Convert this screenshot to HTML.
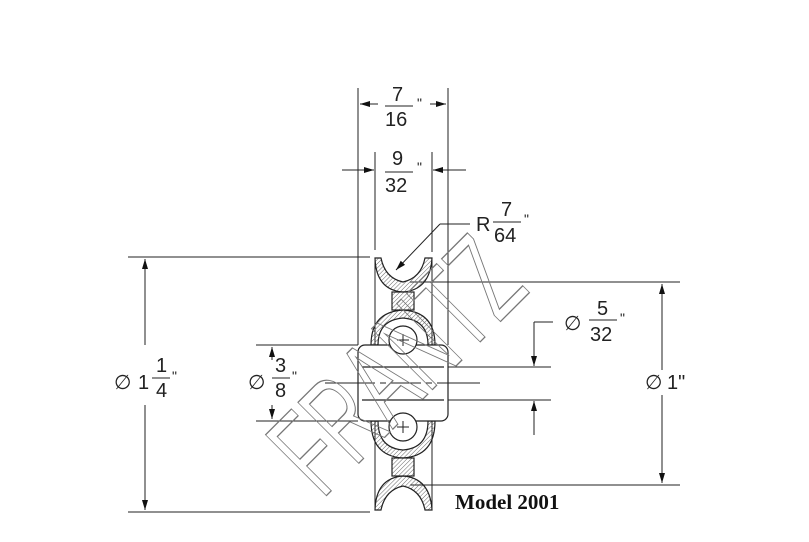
<!DOCTYPE html>
<html><head><meta charset="utf-8"><style>
html,body{margin:0;padding:0;background:#fff;}
svg{display:block}
text{font-family:"Liberation Sans",sans-serif;fill:#222}
</style></head><body>
<svg width="809" height="542" viewBox="0 0 809 542" xmlns="http://www.w3.org/2000/svg">
<defs>
<marker id="a" markerWidth="10" markerHeight="6" refX="10" refY="3" orient="auto" markerUnits="userSpaceOnUse"><path d="M0,0 L10,3 L0,6 z" fill="#111"/></marker>
<pattern id="h" width="3" height="3" patternUnits="userSpaceOnUse" patternTransform="rotate(45)"><line x1="0" y1="0" x2="0" y2="3" stroke="#666" stroke-width="1"/></pattern>
</defs>
<g stroke="#222" stroke-width="1" fill="none">
<line x1="358" y1="88" x2="358" y2="345"/>
<line x1="448" y1="88" x2="448" y2="345"/>
<line x1="375" y1="152" x2="375" y2="250"/>
<line x1="432" y1="152" x2="432" y2="252"/>
<line x1="378" y1="104" x2="360" y2="104" marker-end="url(#a)"/>
<line x1="430" y1="104" x2="446" y2="104" marker-end="url(#a)"/>
<line x1="342" y1="170" x2="374" y2="170" marker-end="url(#a)"/>
<line x1="466" y1="170" x2="433" y2="170" marker-end="url(#a)"/>
<line x1="470" y1="224" x2="440" y2="224"/>
<line x1="440" y1="224" x2="396" y2="270" marker-end="url(#a)"/>
<line x1="128" y1="257" x2="370" y2="257"/>
<line x1="128" y1="512" x2="370" y2="512"/>
<line x1="145" y1="345" x2="145" y2="259" marker-end="url(#a)"/>
<line x1="145" y1="405" x2="145" y2="510" marker-end="url(#a)"/>
<line x1="256" y1="345" x2="358" y2="345"/>
<line x1="256" y1="421" x2="358" y2="421"/>
<line x1="272" y1="360" x2="272" y2="347" marker-end="url(#a)"/>
<line x1="272" y1="405" x2="272" y2="419" marker-end="url(#a)"/>
<line x1="410" y1="282" x2="680" y2="282"/>
<line x1="410" y1="485" x2="680" y2="485"/>
<line x1="662" y1="370" x2="662" y2="284" marker-end="url(#a)"/>
<line x1="662" y1="395" x2="662" y2="483" marker-end="url(#a)"/>
<line x1="420" y1="367" x2="551" y2="367"/>
<line x1="420" y1="400" x2="551" y2="400"/>
<line x1="553" y1="322" x2="534" y2="322"/>
<line x1="534" y1="322" x2="534" y2="366" marker-end="url(#a)"/>
<line x1="534" y1="435" x2="534" y2="401" marker-end="url(#a)"/>
<line x1="325" y1="383" x2="480" y2="383" stroke-dasharray="40,6,6,6"/>
<line x1="375" y1="258" x2="375" y2="510"/>
<line x1="432" y1="258" x2="432" y2="510"/>
</g>
<g stroke="#222" stroke-width="1.2">
<path d="M375,258 L381,258 Q385,278 403,282 Q421,278 425,258 L432,258 Q430,290 403,292 Q376,290 375,258 z" fill="url(#h)"/>
<rect x="392" y="292" width="22" height="18" fill="url(#h)"/>
<path d="M375,510 L381,510 Q385,490 403,486 Q421,490 425,510 L432,510 Q430,478 403,476 Q376,478 375,510 z" fill="url(#h)"/>
<rect x="392" y="458" width="22" height="18" fill="url(#h)"/>
<path d="M371,345 Q371,312 403,310 Q435,312 435,345 L428,345 Q428,320 403,318 Q378,320 378,345 z" fill="url(#h)"/>
<path d="M371,421 Q371,456 403,458 Q435,456 435,421 L428,421 Q428,448 403,450 Q378,448 378,421 z" fill="url(#h)"/>
<rect x="358" y="345" width="90" height="76" rx="7" fill="#fff"/>
<line x1="362" y1="367" x2="444" y2="367"/>
<line x1="362" y1="400" x2="444" y2="400"/>
<circle cx="403" cy="340" r="14" fill="#fff"/>
<circle cx="403" cy="427" r="14" fill="#fff"/>
</g>
<g stroke="#222" stroke-width="1">
<line x1="397" y1="340" x2="409" y2="340"/><line x1="403" y1="334" x2="403" y2="346"/>
<line x1="397" y1="427" x2="409" y2="427"/><line x1="403" y1="421" x2="403" y2="433"/>
<line x1="345" y1="383" x2="460" y2="383" stroke-dasharray="30,5,6,5"/>
</g>
<text x="0" y="0" transform="translate(322,500) rotate(-45) scale(0.6,1)" font-size="125" style="fill:none;stroke:#777;stroke-width:1.3;font-family:'Liberation Sans',sans-serif">FRANTZ</text>
<g font-size="20">
<text x="392" y="101">7</text><line x1="385" y1="106" x2="413" y2="106" stroke="#222"/><text x="385" y="126">16</text><text x="417" y="108" font-size="14">"</text>
<text x="392" y="165">9</text><line x1="385" y1="172" x2="413" y2="172" stroke="#222"/><text x="385" y="192">32</text><text x="417" y="172" font-size="14">"</text>
<text x="476" y="231">R</text><text x="501" y="216">7</text><line x1="493" y1="222" x2="521" y2="222" stroke="#222"/><text x="494" y="242">64</text><text x="524" y="224" font-size="14">"</text>
<text x="114" y="389">∅</text><text x="138" y="389">1</text><text x="156" y="372">1</text><line x1="152" y1="378" x2="170" y2="378" stroke="#222"/><text x="156" y="397">4</text><text x="172" y="381" font-size="14">"</text>
<text x="248" y="389">∅</text><text x="275" y="372">3</text><line x1="272" y1="378" x2="290" y2="378" stroke="#222"/><text x="275" y="397">8</text><text x="292" y="381" font-size="14">"</text>
<text x="564" y="330">∅</text><text x="597" y="315">5</text><line x1="589" y1="320" x2="617" y2="320" stroke="#222"/><text x="590" y="341">32</text><text x="620" y="323" font-size="14">"</text>
<text x="645" y="389">∅</text><text x="667" y="389">1"</text>
</g>
<text x="455" y="509" font-weight="bold" font-size="21" style="fill:#111;font-family:'Liberation Serif',serif">Model 2001</text>
</svg>
</body></html>
